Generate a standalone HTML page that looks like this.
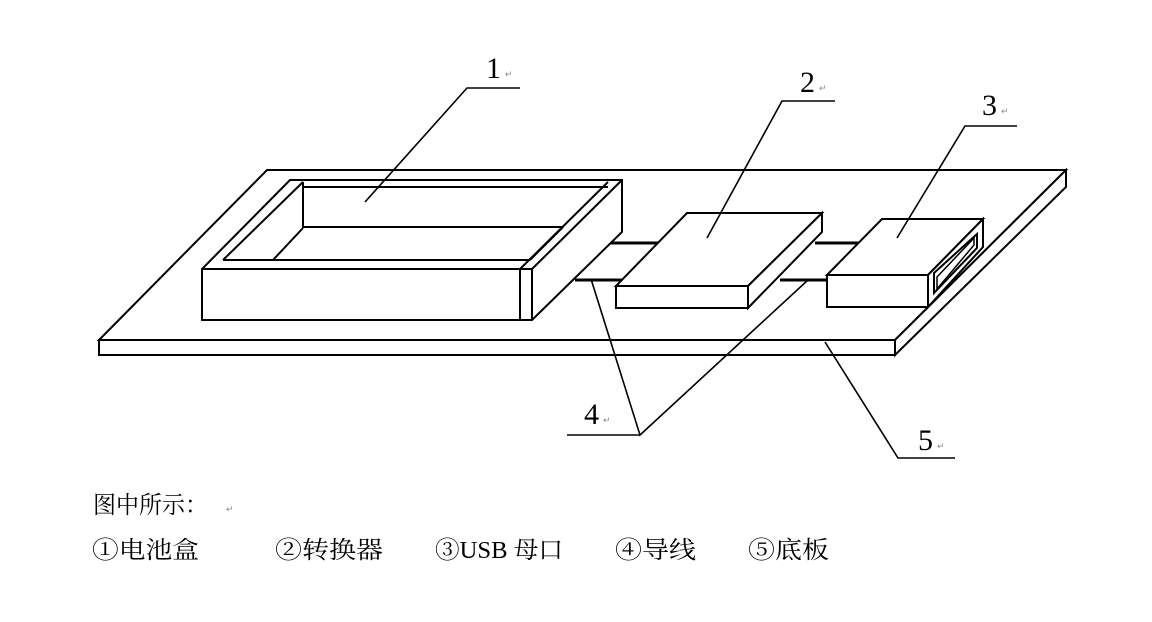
<!DOCTYPE html>
<html><head><meta charset="utf-8"><style>
html,body{margin:0;padding:0;background:#fff;}
svg{display:block;}
.t{font-family:"Liberation Serif","Noto Serif CJK SC",serif;font-size:24px;fill:#000;}
.n{font-family:"Liberation Serif",serif;font-size:30px;fill:#000;}
.r{font-family:"Liberation Sans",sans-serif;font-size:9px;fill:#888;}
</style></head><body>
<svg width="1152" height="622" viewBox="0 0 1152 622" xmlns="http://www.w3.org/2000/svg">
<g fill="none" stroke="#000" stroke-width="2" stroke-linejoin="miter">
<polygon points="267,170 1066,170 895,340 99,340" fill="#fff"/>
<polygon points="99,340 895,340 895,355 99,355" fill="#fff"/>
<polygon points="895,340 1066,170 1066,187 895,355" fill="#fff"/>
<line x1="600" y1="243" x2="690" y2="243" stroke-width="3"/>
<line x1="815" y1="243" x2="880" y2="243" stroke-width="3"/>
<line x1="575" y1="280" x2="628" y2="280" stroke-width="3"/>
<line x1="780" y1="280" x2="826" y2="280" stroke-width="3"/>
<polygon points="290,180 622,180 622,232 532,320 202,320 202,269" fill="#fff"/>
<line x1="303" y1="187" x2="608" y2="187"/>
<line x1="303" y1="182" x2="303" y2="228"/>
<line x1="303" y1="227" x2="563" y2="227"/>
<line x1="563" y1="227" x2="530" y2="260"/>
<line x1="223" y1="260" x2="303" y2="182"/>
<line x1="273" y1="260" x2="303" y2="228"/>
<line x1="223" y1="260" x2="530" y2="260"/>
<line x1="608" y1="182" x2="520" y2="269"/>
<line x1="622" y1="180" x2="532" y2="269"/>
<line x1="202" y1="269" x2="532" y2="269"/>
<line x1="520" y1="269" x2="520" y2="320"/>
<line x1="532" y1="269" x2="532" y2="320"/>
<polygon points="616,286 687,213 822,213 748,286" fill="#fff"/>
<polygon points="748,286 822,213 822,232 748,308" fill="#fff"/>
<rect x="616" y="286" width="132" height="22" fill="#fff"/>
<polygon points="827,275 882,219 983,219 928,275" fill="#fff"/>
<polygon points="928,275 983,219 983,247 928,307" fill="#fff"/>
<rect x="827" y="275" width="101" height="32" fill="#fff"/>
<polygon points="934,273 977,234 977,248 934,293"/>
<polygon points="937,277 974,238 974,245 937,289" stroke-width="1.5"/>
<g stroke-width="1.6">
<polyline points="365,202 467,88 520,88"/>
<polyline points="707,238 782,101 835,101"/>
<polyline points="897,238 965,126 1017,126"/>
<polyline points="591,279 640,435 808,280"/>
<line x1="567" y1="435" x2="640" y2="435"/>
<polyline points="825,342 898,458 955,458"/>
</g>
</g>
<text class="n" x="486" y="78">1</text><text class="r" x="505" y="77">↵</text>
<text class="n" x="800" y="92">2</text><text class="r" x="819" y="91">↵</text>
<text class="n" x="982" y="115">3</text><text class="r" x="1001" y="114">↵</text>
<text class="n" x="584" y="424">4</text><text class="r" x="603" y="423">↵</text>
<text class="n" x="918" y="450">5</text><text class="r" x="937" y="449">↵</text>
<text class="t" x="93" y="513" textLength="115" lengthAdjust="spacingAndGlyphs">图中所示：</text>
<text class="r" x="226" y="512">↵</text>
<text class="t" x="92" y="558" textLength="107" lengthAdjust="spacingAndGlyphs">①电池盒</text>
<text class="t" x="275" y="558" textLength="108" lengthAdjust="spacingAndGlyphs">②转换器</text>
<text class="t" x="435" y="558" textLength="128" lengthAdjust="spacingAndGlyphs">③USB 母口</text>
<text class="t" x="615" y="558" textLength="81" lengthAdjust="spacingAndGlyphs">④导线</text>
<text class="t" x="748" y="558" textLength="81" lengthAdjust="spacingAndGlyphs">⑤底板</text>
</svg>
</body></html>
